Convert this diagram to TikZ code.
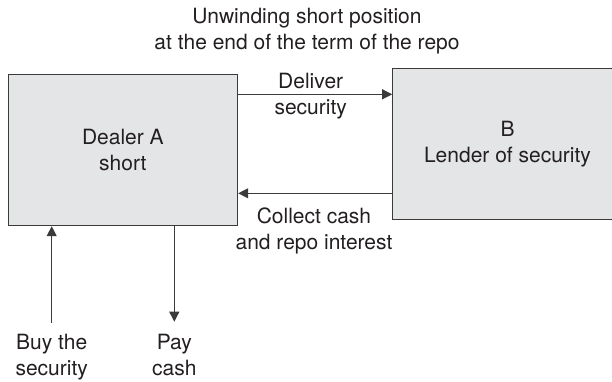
\documentclass[tikz,border=0pt]{standalone}
\usepackage{fontspec}
\setmainfont{TeX Gyre Heros}
\usetikzlibrary{arrows.meta, positioning}
\definecolor{boxgray}{HTML}{E4E5E7}
\definecolor{inkgray}{HTML}{231F20}
\definecolor{linegray}{HTML}{3A3A3A}

\begin{document}
\begin{tikzpicture}[x=1pt, y=-1pt,
    every node/.style={font=\fontsize{21}{26}\selectfont, text=inkgray, align=center},
    party/.style={draw=linegray, line width=1pt, fill=boxgray,
        minimum width=229.7pt, minimum height=151.4pt},
    flow/.style={draw=linegray, line width=1pt,
        -{Triangle[length=10pt, width=10pt]}},
]
    \clip (0,0) rectangle (612,382);
    \node (title) at (307,31.5) {Unwinding short position\\at the end of the term of the repo};
    \node [party] (A) at (122.85,150) {Dealer A\\short};
    \node [party] (B) at (507.5,143.8) {B\\Lender of security};
    % repo legs between the two parties
    \draw [flow] ([yshift=55.7pt]A.east) coordinate (deliver) -- (deliver -| B.west);
    \draw [flow] ([yshift=-49.5pt]B.west) coordinate (collect) -- (collect -| A.east);
    \node (deliverlbl) at (310.7,96.5) {Deliver\\security};
    \node (collectlbl) at (314,231) {Collect cash\\and repo interest};
    % market legs
    \coordinate (buy) at (51.7,322.7);
    \coordinate (pay) at (174.3,321.7);
    \draw [flow] (buy) -- (buy |- A.south);
    \draw [flow] (pay |- A.south) -- (pay);
    \node (buylbl) at (51.7,357.5) {Buy the\\security};
    \node (paylbl) at (174.3,355.4) {Pay\\cash};
\end{tikzpicture}
\end{document}
